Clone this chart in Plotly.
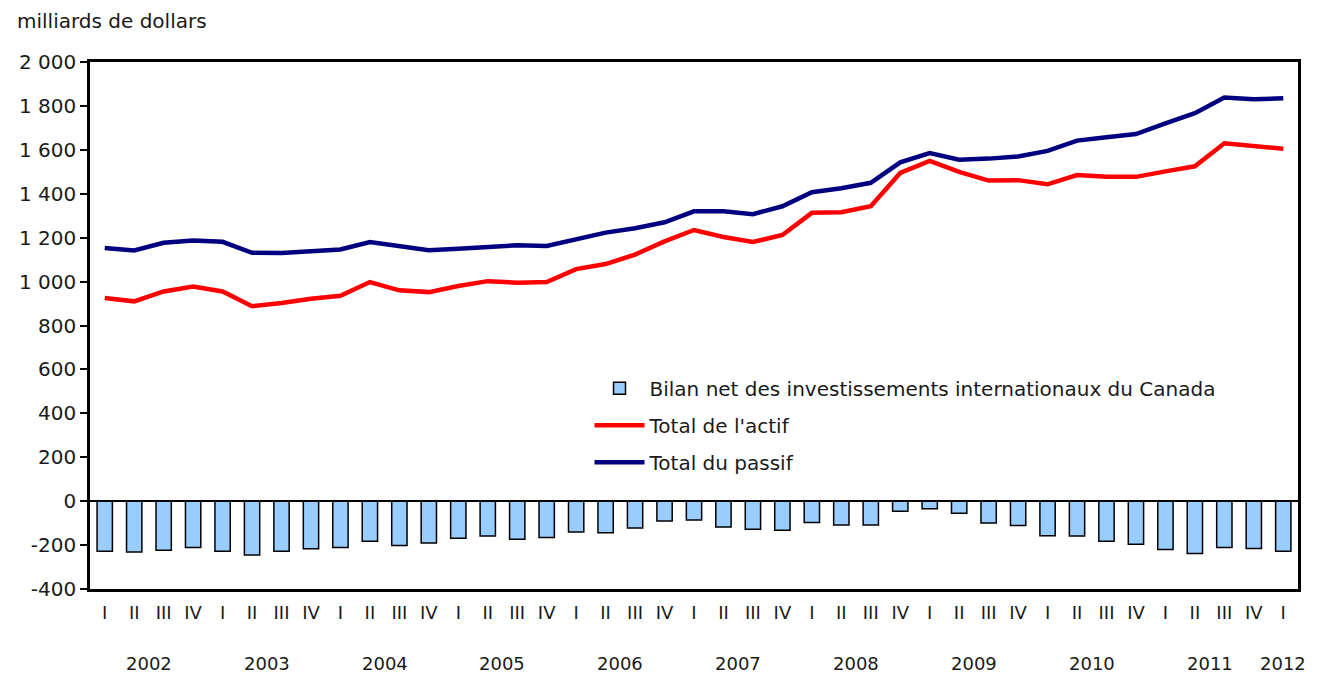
import plotly.graph_objects as go

quarters = ["I", "II", "III", "IV"] * 10 + ["I"]
years = ["2002", "2003", "2004", "2005", "2006", "2007", "2008", "2009", "2010", "2011", "2012"]

net = [-228, -231, -223, -211, -228, -245, -228, -217, -211, -182, -202, -190,
       -169, -159, -173, -166, -140, -144, -122, -90, -86, -118, -128, -132,
       -97, -108, -108, -46, -35, -55, -100, -111, -157, -159, -182, -196,
       -220, -238, -211, -216, -228]
actif = [925, 910, 955, 978, 955, 888, 902, 922, 935, 998, 960, 952,
         980, 1002, 995, 998, 1057, 1080, 1123, 1183, 1235, 1203, 1180, 1212,
         1313, 1316, 1343, 1495, 1550, 1500, 1460, 1462, 1443, 1485, 1477, 1477,
         1502, 1525, 1630, 1617, 1605]
passif = [1153, 1142, 1177, 1187, 1181, 1131, 1130, 1138, 1146, 1180, 1160, 1143,
          1150, 1160, 1165, 1162, 1195, 1223, 1243, 1270, 1320, 1320, 1307, 1343,
          1407, 1425, 1450, 1543, 1585, 1555, 1560, 1570, 1595, 1642, 1657, 1672,
          1720, 1767, 1838, 1830, 1835]

y_tickvals = [-400, -200, 0, 200, 400, 600, 800, 1000, 1200, 1400, 1600, 1800, 2000]
y_ticktext = ["-400", "-200", "0", "200", "400", "600", "800", "1 000", "1 200",
              "1 400", "1 600", "1 800", "2 000"]

x = list(range(len(quarters)))
FONT = "DejaVu Sans"
TXT = "#1a1a1a"

fig = go.Figure()
fig.add_trace(go.Bar(
    x=x, y=net, name="Bilan net des investissements internationaux du Canada",
    marker=dict(color="#99CCFF", line=dict(color="black", width=1.5)),
    width=0.52, legendgroup="a",
))
fig.add_trace(go.Scatter(
    x=x, y=actif, mode="lines", name="Total de l'actif",
    line=dict(color="#FF0000", width=4.5), legendgroup="b",
))
fig.add_trace(go.Scatter(
    x=x, y=passif, mode="lines", name="Total du passif",
    line=dict(color="#000080", width=4.5), legendgroup="c",
))

# year labels centred under their quarters
annotations = []
for i, yr in enumerate(years):
    idx = [k for k in range(i * 4, min(i * 4 + 4, len(quarters)))]
    xc = sum(idx) / len(idx)
    annotations.append(dict(x=xc, y=-0.141, xref="x", yref="paper", text=yr,
                            showarrow=False, yanchor="middle",
                            font=dict(family=FONT, size=18, color=TXT)))
annotations.append(dict(x=-0.0625, y=1.077, xref="paper", yref="paper",
                        xanchor="left", yanchor="middle", text="milliards de dollars",
                        showarrow=False, font=dict(family=FONT, size=20, color=TXT)))

fig.update_layout(
    width=1317, height=675,
    margin=dict(l=90, r=19, t=62, b=86),
    plot_bgcolor="white", paper_bgcolor="white",
    showlegend=True,
    legend=dict(x=0.4135, y=0.418, xanchor="left", yanchor="top",
                font=dict(family=FONT, size=20, color=TXT),
                traceorder="grouped", tracegroupgap=8, itemwidth=50,
                bgcolor="rgba(0,0,0,0)"),
    annotations=annotations,
    font=dict(family=FONT, color=TXT),
)
fig.update_xaxes(
    range=[-0.5, len(quarters) - 0.5],
    tickmode="array", tickvals=x, ticktext=quarters,
    ticks="", showline=True, linecolor="black", linewidth=2.5, mirror=True,
    showgrid=False, zeroline=False,
    tickfont=dict(family=FONT, size=18, color=TXT),
    ticklabelstandoff=6,
)
fig.update_yaxes(
    range=[-400, 2000],
    tickmode="array", tickvals=y_tickvals, ticktext=y_ticktext,
    ticks="outside", ticklen=7, tickwidth=2, tickcolor="black",
    showline=True, linecolor="black", linewidth=2.5, mirror=True,
    showgrid=False, zeroline=True, zerolinecolor="black", zerolinewidth=2,
    tickfont=dict(family=FONT, size=20, color=TXT),
)

fig.write_html("out.html", config={"displayModeBar": False},
               post_script="document.body.style.margin='0';document.body.style.overflow='hidden';")
